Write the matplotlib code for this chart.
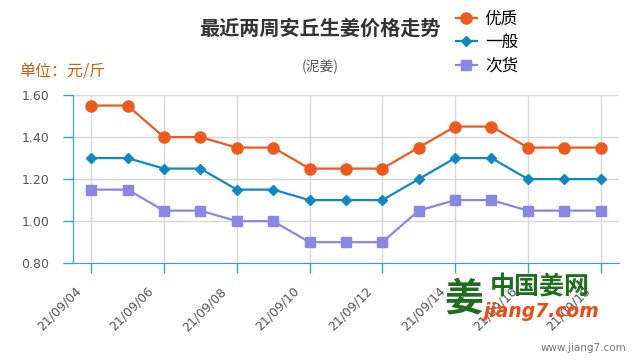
import numpy as np
import matplotlib.pyplot as plt
import matplotlib.transforms as mtransforms

plt.rcParams['font.family'] = ['Noto Sans CJK SC', 'DejaVu Sans']

# data
dates = ['21/09/04', '21/09/05', '21/09/06', '21/09/07', '21/09/08', '21/09/09', '21/09/10',
         '21/09/11', '21/09/12', '21/09/13', '21/09/14', '21/09/15', '21/09/16', '21/09/17', '21/09/18']
youzhi = [1.55, 1.55, 1.40, 1.40, 1.35, 1.35, 1.25, 1.25, 1.25, 1.35, 1.45, 1.45, 1.35, 1.35, 1.35]
yiban = [1.30, 1.30, 1.25, 1.25, 1.15, 1.15, 1.10, 1.10, 1.10, 1.20, 1.30, 1.30, 1.20, 1.20, 1.20]
cihuo = [1.15, 1.15, 1.05, 1.05, 1.00, 1.00, 0.90, 0.90, 0.90, 1.05, 1.10, 1.10, 1.05, 1.05, 1.05]
series_names = ['优质', '一般', '次货']
yticks = [0.80, 1.00, 1.20, 1.40, 1.60]

axis_col = '#2aa6d8'
fig = plt.figure(figsize=(6.4, 3.6), dpi=100)
ax = fig.add_axes([0.114, 0.269, 0.853, 0.467])

x = np.arange(len(dates))
l1, = ax.plot(x, youzhi, color='#ee5a1e', lw=1.6, marker='o', ms=8, zorder=3)
l2, = ax.plot(x, yiban, color='#1088c4', lw=1.6, marker='D', ms=5.5, zorder=3)
l3, = ax.plot(x, cihuo, color='#8a86e6', lw=1.6, marker='s', ms=7.5, zorder=3)

ax.set_xlim(-0.5, len(dates) - 0.5)
ax.set_ylim(0.8, 1.6)
ax.set_yticks(yticks)
ax.set_yticklabels(['%.2f' % v for v in yticks], fontsize=9, color='#555555', family='DejaVu Sans')
ax.set_xticks(x[::2])
ax.set_xticklabels(dates[::2], rotation=45, ha='right', rotation_mode='anchor',
                   fontsize=9, color='#555555', family='DejaVu Sans')
ax.tick_params(axis='both', colors=axis_col, length=7, width=1)
ax.tick_params(axis='x', labelcolor='#555555')
ax.tick_params(axis='y', labelcolor='#555555', pad=10)
shift = mtransforms.ScaledTranslation(-0.17, -0.07, fig.dpi_scale_trans)
for lab in ax.get_xticklabels():
    lab.set_transform(lab.get_transform() + shift)
ax.grid(True, color='#d8d8d8', lw=1)
ax.set_axisbelow(True)
for s in ['top', 'right']:
    ax.spines[s].set_visible(False)
ax.spines['left'].set_color(axis_col)
ax.spines['bottom'].set_color(axis_col)

fig.text(0.50, 0.922, '最近两周安丘生姜价格走势', ha='center', va='center',
         fontsize=14.5, fontweight='bold', color='#333333')
fig.text(0.50, 0.815, '(泥姜)', ha='center', va='center', fontsize=10, color='#555555')
fig.text(0.03, 0.80, '单位：元/斤', ha='left', va='center', fontsize=11.5, color='#c8620c')

fig.legend([l1, l2, l3], series_names, loc='upper left', bbox_to_anchor=(0.712, 0.97),
           frameon=False, fontsize=12, handlelength=1.25, handletextpad=0.5,
           labelspacing=0.38, borderpad=0.0, borderaxespad=0.0)

# watermark
fig.text(0.765, 0.205, '中国姜网', ha='left', va='center', fontsize=18, color='#1e6e1e', fontweight='bold')
fig.text(0.755, 0.135, 'jiang7.com', ha='left', va='center', fontsize=13.5, color='#f04a10',
         fontweight='bold', style='italic', family='DejaVu Sans')
fig.text(0.695, 0.17, '姜', ha='left', va='center', fontsize=28, color='#1e6e1e', fontweight='bold')
fig.text(0.978, 0.033, 'www.jiang7.com', ha='right', va='center', fontsize=7.5, color='#777777',
         family='DejaVu Sans')

fig.savefig('out.png', dpi=100)
